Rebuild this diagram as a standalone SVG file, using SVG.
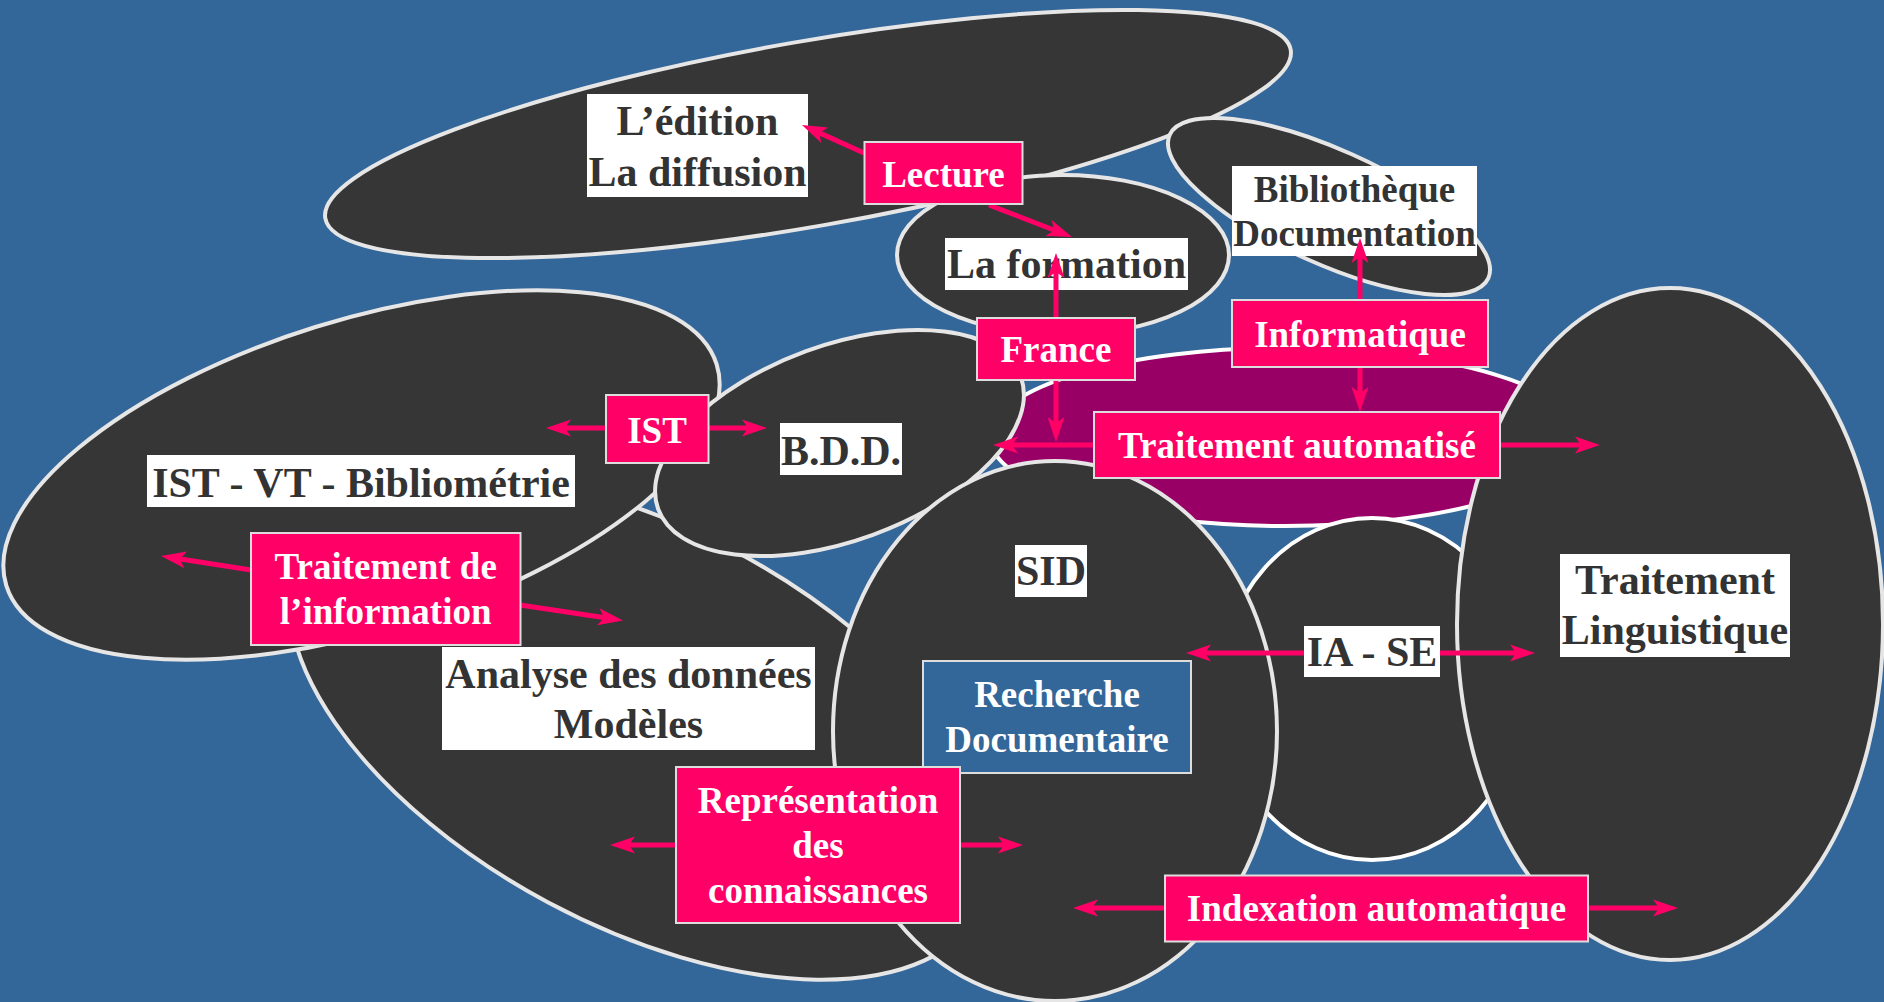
<svg xmlns="http://www.w3.org/2000/svg" width="1884" height="1002" viewBox="0 0 1884 1002">
<style>
.area{fill:#363636;stroke:#e6e6e6;stroke-width:4}
.areaw{stroke:#ffffff;stroke-width:4}
.lab{fill:#ffffff}
.pk{fill:#ff0066;stroke:#dddddd;stroke-width:2}
.bl{fill:#336699;stroke:#dddddd;stroke-width:2}
.t42{font-family:"Liberation Serif","Times New Roman",serif;font-weight:bold;font-size:42px;fill:#333333;text-anchor:middle}
.t37d{font-family:"Liberation Serif","Times New Roman",serif;font-weight:bold;font-size:37px;fill:#333333;text-anchor:middle}
.t37{font-family:"Liberation Serif","Times New Roman",serif;font-weight:bold;font-size:37px;fill:#ffffff;text-anchor:middle}
.cn{fill:none;stroke:#ff0066;stroke-width:5;marker-end:url(#ah)}
</style>
<defs>
<marker id="ah" markerUnits="userSpaceOnUse" orient="auto" refX="0" refY="0" markerWidth="30" markerHeight="20" overflow="visible">
<path d="M18,0 L-7,-8.5 L-1,0 L-7,8.5 Z" fill="#ff0066"/>
</marker>
</defs>
<rect x="0" y="0" width="1884" height="1002" fill="#336699"/>

<g id="edition">
<ellipse class="area" cx="808" cy="134" rx="490" ry="92.5" transform="rotate(-9.9 808 134)"/>
<rect class="lab" x="587" y="94" width="221" height="103"/>
<text class="t42" x="697.5" y="135">L’édition</text>
<text class="t42" x="697.5" y="186">La diffusion</text>
</g>
<g id="bibliotheque">
<ellipse class="area" cx="1329" cy="206.5" rx="174.7" ry="57" transform="rotate(24.2 1329 206.5)"/>
<rect class="lab" x="1232" y="166" width="245" height="90"/>
<text class="t37d" x="1354.5" y="202">Bibliothèque</text>
<text class="t37d" x="1354.5" y="246">Documentation</text>
</g>
<g id="formation">
<ellipse class="area" cx="1063" cy="255" rx="166" ry="80"/>
<rect class="lab" x="945" y="238" width="243" height="52"/>
<text class="t42" x="1066.5" y="278">La formation</text>
</g>
<g id="automatise-area">
<ellipse class="areaw" fill="#990066" cx="1285" cy="437" rx="295" ry="89"/>
</g>
<g id="analyse">
<ellipse class="area" cx="642" cy="727" rx="386" ry="199" transform="rotate(28.1 642 727)"/>
<rect class="lab" x="442" y="647" width="373" height="103"/>
<text class="t42" x="628.5" y="688">Analyse des données</text>
<text class="t42" x="628.5" y="738">Modèles</text>
</g>
<g id="ist-vt">
<ellipse class="area" cx="361.5" cy="475" rx="372" ry="155" transform="rotate(-17.3 361.5 475)"/>
<rect class="lab" x="147" y="455" width="428" height="52"/>
<text class="t42" x="361" y="497">IST - VT - Bibliométrie</text>
</g>
<g id="bdd">
<ellipse class="area" cx="839.5" cy="443" rx="193" ry="97.7" transform="rotate(-20 839.5 443)"/>
<rect class="lab" x="780" y="423" width="122" height="52"/>
<text class="t42" x="841" y="465">B.D.D.</text>
</g>
<g id="ia-se">
<ellipse class="areaw" fill="#363636" cx="1372" cy="689" rx="152" ry="171"/>
<rect class="lab" x="1304" y="626" width="136" height="51"/>
<text class="t42" x="1372" y="666">IA - SE</text>
</g>
<g id="sid">
<ellipse class="area" cx="1055" cy="731" rx="222" ry="270"/>
<rect class="lab" x="1015" y="545" width="72" height="52"/>
<text class="t42" x="1051" y="585">SID</text>
</g>
<g id="linguistique">
<ellipse class="area" cx="1670" cy="624" rx="213" ry="336"/>
<rect class="lab" x="1560" y="554" width="230" height="103"/>
<text class="t42" x="1675" y="594">Traitement</text>
<text class="t42" x="1675" y="644">Linguistique</text>
</g>

<g id="connectors">
<path class="cn" d="M864,153 L818.4,132.4"/>
<path class="cn" d="M989,205 L1055.2,230.5"/>
<path class="cn" d="M1056,318 L1056,271"/>
<path class="cn" d="M1056,380 L1056,424"/>
<path class="cn" d="M1094,445 L1011,445"/>
<path class="cn" d="M1360,300 L1360,256"/>
<path class="cn" d="M1360,367 L1360,394"/>
<path class="cn" d="M1500,445 L1582,445"/>
<path class="cn" d="M606,428 L564,428"/>
<path class="cn" d="M708,428 L749,428"/>
<path class="cn" d="M251,570 L178.8,558.8"/>
<path class="cn" d="M520,605 L605.2,617.8"/>
<path class="cn" d="M676,845 L628,845"/>
<path class="cn" d="M960,845 L1005,845"/>
<path class="cn" d="M1304,653 L1204,653"/>
<path class="cn" d="M1440,653 L1517,653"/>
<path class="cn" d="M1165,908 L1091,908"/>
<path class="cn" d="M1588,908 L1660,908"/>
</g>

<g id="lecture">
<rect class="pk" x="864.5" y="142" width="158" height="62"/>
<text class="t37" x="943.5" y="187">Lecture</text>
</g>
<g id="france">
<rect class="pk" x="977" y="318" width="158" height="62"/>
<text class="t37" x="1056" y="362">France</text>
</g>
<g id="informatique">
<rect class="pk" x="1232" y="300" width="256" height="67"/>
<text class="t37" x="1360" y="347">Informatique</text>
</g>
<g id="traitement-automatise">
<rect class="pk" x="1094" y="412" width="406" height="66"/>
<text class="t37" x="1297" y="458">Traitement automatisé</text>
</g>
<g id="ist">
<rect class="pk" x="606" y="395" width="102.5" height="68"/>
<text class="t37" x="657" y="443">IST</text>
</g>
<g id="traitement-information">
<rect class="pk" x="251" y="533" width="269.5" height="112"/>
<text class="t37" x="385.7" y="579">Traitement de</text>
<text class="t37" x="385.7" y="624">l’information</text>
</g>
<g id="recherche">
<rect class="bl" x="923" y="661" width="268" height="112"/>
<text class="t37" x="1057" y="707">Recherche</text>
<text class="t37" x="1057" y="752">Documentaire</text>
</g>
<g id="representation">
<rect class="pk" x="676" y="767" width="284" height="156"/>
<text class="t37" x="818" y="813">Représentation</text>
<text class="t37" x="818" y="858">des</text>
<text class="t37" x="818" y="903">connaissances</text>
</g>
<g id="indexation">
<rect class="pk" x="1165" y="875.5" width="423" height="66"/>
<text class="t37" x="1376.5" y="921">Indexation automatique</text>
</g>
</svg>
